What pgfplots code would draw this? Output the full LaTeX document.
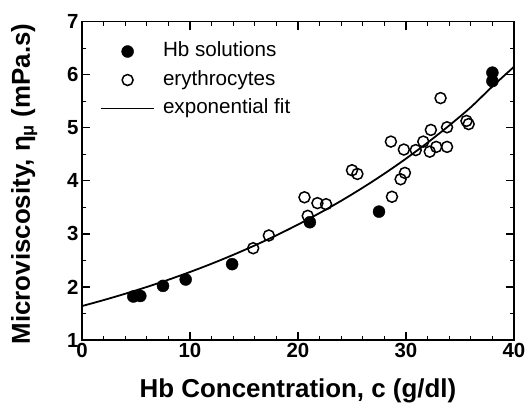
\documentclass[border=0pt]{standalone}
\usepackage{fontspec}
\setmainfont{Liberation Sans}
\usepackage{pgfplots}
\pgfplotsset{compat=1.18}
\pgfplotsset{
  marklegend/.style={legend image code/.code={\draw[mark repeat=2,mark phase=2,##1] plot coordinates {(0bp,0bp)(26.5bp,0bp)(53bp,0bp)};}},
  linelegend/.style={legend image code/.code={\draw[##1] (0bp,0bp) -- (53bp,0bp);}},
}
\begin{document}
\begin{tikzpicture}
\begin{axis}[
  name=ax, at={(0,0)}, anchor=south west,
  scale only axis, width=432bp, height=318.3bp,
  xmin=0, xmax=40, ymin=1, ymax=7,
  xtick={0,10,20,30,40}, ytick={1,2,3,4,5,6,7},
  minor x tick num=4, minor y tick num=1,
  tick align=inside,
  major tick length=8bp, minor tick length=4.5bp,
  axis line style={line width=1.5bp},
  every tick/.style={line width=1.2bp, black},
  /pgf/number format/assume math mode=true,
  tick label style={font=\bfseries\fontsize{20.5}{20.5}\selectfont},
  xlabel={Hb Concentration, c (g/dl)},
  ylabel={Microviscosity, η\textsubscript{μ} (mPa.s)},
  label style={font=\bfseries\fontsize{26}{26}\selectfont},
  xlabel style={at={(axis description cs:0.5,-0.1822)}, anchor=base},
  ylabel style={at={(axis description cs:-0.1204,0.49)}, anchor=base},
  legend cell align=left,
  legend style={draw=none, fill=none, at={(axis description cs:0.0417,0.936)},
    anchor=north west, inner sep=0pt, row sep=10bp, column sep=8bp,
    font=\fontsize{20.7}{20.7}\selectfont,
    nodes={inner sep=0pt, text height=14.5bp, text depth=4bp}},
]
\addplot[only marks, mark=*, mark size=6bp, mark options={fill=black, draw=black}, marklegend]
  table {
x y
4.75 1.82
5.40 1.83
7.50 2.02
9.60 2.14
13.90 2.43
21.10 3.22
27.50 3.42
38.00 6.04
38.00 5.88
};
\addlegendentry{Hb solutions}
\addplot[only marks, mark=o, mark size=5.5bp, mark options={line width=1.5bp, draw=black, fill=white}, marklegend]
  table {
x y
15.85 2.73
17.30 2.97
20.60 3.69
20.90 3.34
21.80 3.58
22.60 3.56
25.00 4.20
25.50 4.13
28.60 4.74
28.70 3.70
29.50 4.03
29.90 4.15
29.80 4.59
30.90 4.58
31.60 4.74
32.30 4.96
32.20 4.55
32.80 4.64
33.20 5.56
33.80 5.01
33.80 4.64
35.60 5.13
35.80 5.07
};
\addlegendentry{erythrocytes}
\addplot[black, line width=1.8bp, smooth, linelegend]
  table {
x y
0 1.640
2 1.752
4 1.872
6 2.000
8 2.136
10 2.282
12 2.438
14 2.605
16 2.783
18 2.973
20 3.176
22 3.393
24 3.624
26 3.872
28 4.136
30 4.419
32 4.721
34 5.043
36 5.388
38 5.780
40 6.150
};
\addlegendentry{exponential fit}
\end{axis}
\pgfresetboundingbox
\path[use as bounding box] (-82bp,-66bp) rectangle (445bp,340bp);
\end{tikzpicture}
\end{document}
